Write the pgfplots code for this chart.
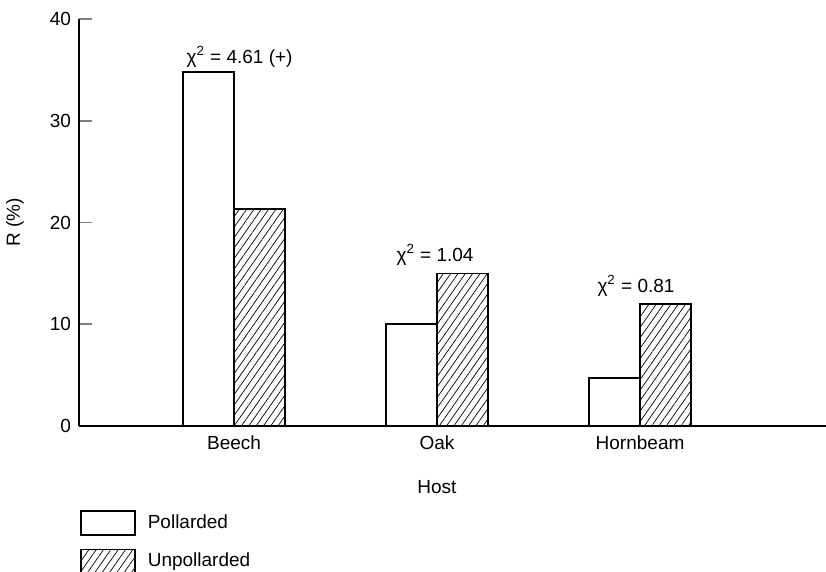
\documentclass[border=0pt]{standalone}
\usepackage{fontspec}
\setmainfont{Liberation Sans}
\usepackage{pgfplots}
\pgfplotsset{compat=1.18}
\usetikzlibrary{patterns.meta}
\begin{document}
\begin{tikzpicture}
\begin{axis}[
  at={(0,0)}, anchor=south west,
  scale only axis, width=373.5pt, height=203.5pt,
  xmin=-0.764, xmax=2.916, ymin=0, ymax=40,
  axis x line=bottom, axis y line=left,
  axis line style={-, line width=0.8pt},
  ybar, bar width=25.5pt,
  xtick={0,1,2}, xticklabels={Beech,Oak,Hornbeam},
  x tick style={draw=none},
  ytick={0,10,20,30,40},
  y tick style={line width=0.8pt},
  major tick length=6.5pt,
  tick align=inside,
  /pgf/number format/assume math mode=true,
  tick label style={font=\fontsize{9.5}{11}\selectfont},
  yticklabel style={xshift=-0.5pt},
  xticklabel style={yshift=-1.5pt},
  xlabel={Host}, ylabel={R (\%)},
  label style={font=\fontsize{9.5}{11}\selectfont},
  xlabel style={at={(axis description cs:0.479,0)}, anchor=center, yshift=-30.5pt},
  ylabel style={at={(axis description cs:-0.0857,0.501)}, anchor=center},
  legend style={at={(axis description cs:0,0)}, anchor=north west, xshift=0.5pt, yshift=-42pt,
    draw=none, fill=none, inner sep=0pt, row sep=6.5pt,
    font=\fontsize{9.5}{11}\selectfont, cells={anchor=west}},
  legend image code/.code={\draw[#1, line width=0.7pt] (0pt,-6pt) rectangle (27pt,6pt);},
  legend cell align=left,
]
\addplot[draw=black, fill=white, line width=0.8pt, bar shift=-12.75pt] coordinates {(0,34.8) (1,10.0) (2,4.7)};
\addlegendentry{\hspace{4pt}Pollarded}
\addplot[draw=black, line width=0.8pt, bar shift=12.75pt,
  pattern={Lines[angle=55, distance=3pt, line width=0.35pt]}] coordinates {(0,21.3) (1,15.0) (2,12.0)};
\addlegendentry{\hspace{4pt}Unpollarded}
\node[font=\fontsize{9.5}{11}\selectfont] at (axis cs:0.027,36.3) {χ\textsuperscript{2} = 4.61 (+)};
\node[font=\fontsize{9.5}{11}\selectfont] at (axis cs:0.99,16.8) {χ\textsuperscript{2} = 1.04};
\node[font=\fontsize{9.5}{11}\selectfont] at (axis cs:1.98,13.8) {χ\textsuperscript{2} = 0.81};
\end{axis}
\pgfresetboundingbox
\path (-39.5pt,-73pt) rectangle (373.5pt,213pt);
\end{tikzpicture}
\end{document}
